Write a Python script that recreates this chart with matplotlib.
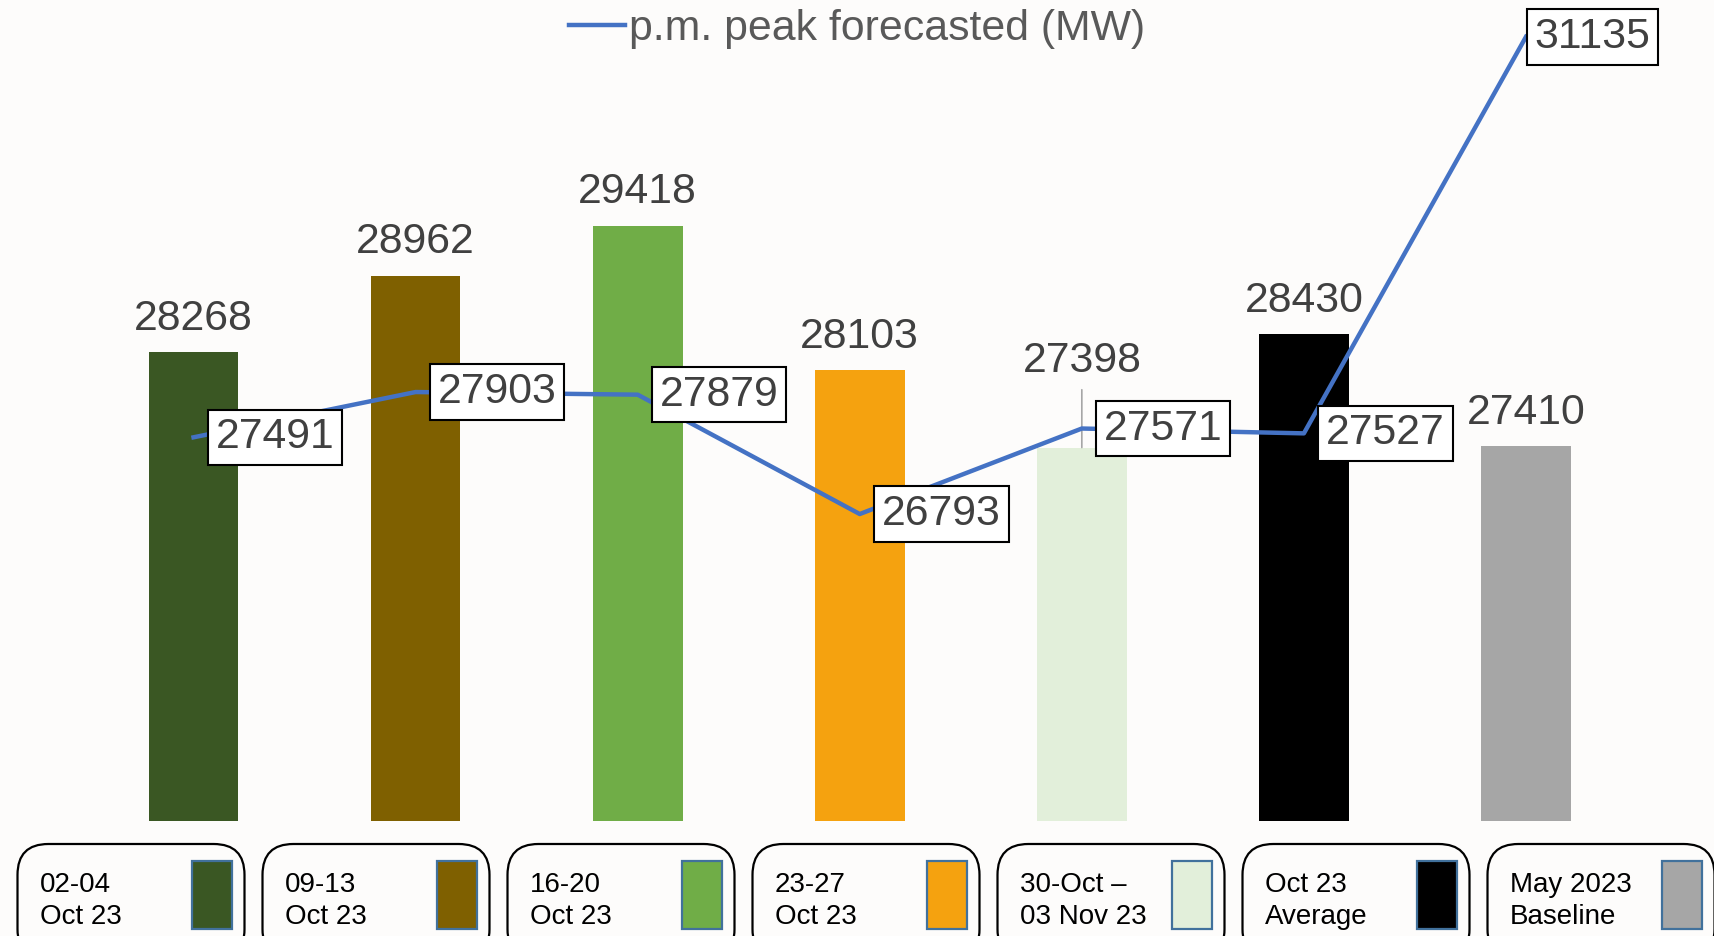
import matplotlib.pyplot as plt
from matplotlib.patches import FancyBboxPatch, Rectangle

plt.rcParams['font.family'] = ['Liberation Sans', 'DejaVu Sans']

categories = ["02-04\nOct 23", "09-13\nOct 23", "16-20\nOct 23", "23-27\nOct 23",
              "30-Oct \u2013\n03 Nov 23", "Oct 23\nAverage", "May 2023\nBaseline"]
bar_values = [28268, 28962, 29418, 28103, 27398, 28430, 27410]
line_values = [27491, 27903, 27879, 26793, 27571, 27527, 31135]
bar_colors = ["#3a5723", "#7f6000", "#70ad47", "#f5a20f", "#e2efda", "#000000", "#a6a6a6"]

W, H = 1714, 936
bg = "#fdfcfb"
txt = "#404040"
fs = 30.8

fig = plt.figure(figsize=(W / 100, H / 100), dpi=100, facecolor=bg)
ax = fig.add_axes([82.5 / W, 1 - 821 / H, 1554.5 / W, 821 / H])
ax.set_facecolor(bg)

x = list(range(len(categories)))
ax.bar(x, bar_values, width=0.404, color=bar_colors, bottom=0)
ax.set_ylim(24000, 31470)
ax.set_xlim(-0.5, 6.5)
ax.axis("off")

# bar value labels (the 5th one is pushed up with a leader line)
for i, v in enumerate(bar_values):
    if i == 4:
        ax.annotate(str(v), xy=(i, v), xytext=(0, 62), textcoords="offset points",
                    ha="center", va="center", fontsize=fs, color=txt,
                    arrowprops=dict(arrowstyle="-", color="#a6a6a6", lw=1.2,
                                    shrinkA=4, shrinkB=0))
    else:
        ax.annotate(str(v), xy=(i, v), xytext=(0, 24), textcoords="offset points",
                    ha="center", va="center", fontsize=fs, color=txt)

line, = ax.plot(x, line_values, color="#4472c4", lw=3.2, zorder=3,
                label="p.m. peak forecasted (MW)")

for i, v in enumerate(line_values):
    dx = 6 if i == len(line_values) - 1 else 16
    ax.annotate(str(v), xy=(i, v), xytext=(dx, 0), textcoords="offset points",
                ha="left", va="center", fontsize=fs, color=txt, zorder=4,
                bbox=dict(boxstyle="square,pad=0.18", fc="white", ec="black", lw=1.5))

fig.legend(handles=[line], loc="upper center", bbox_to_anchor=(0.5, 0.995),
           frameon=False, fontsize=fs, labelcolor="#595959", handlelength=1.3,
           handletextpad=0.1, borderaxespad=0, borderpad=0.1)

# legend boxes along the bottom
for i, (lab, c) in enumerate(zip(categories, bar_colors)):
    left = 17.5 + 245 * i
    box = FancyBboxPatch((left / W, (H - 960) / H), 227 / W, (960 - 844) / H,
                         boxstyle="round,pad=0,rounding_size=0.018",
                         transform=fig.transFigure, fc=bg, ec="black", lw=1.6,
                         mutation_aspect=W / H)
    fig.add_artist(box)
    fig.text((left + 22.5) / W, 1 - 901 / H, lab, fontsize=20, color="black",
             ha="left", va="center", linespacing=1.32)
    sw = Rectangle(((left + 174.5) / W, 1 - 929 / H), 40 / W, 68 / H,
                   transform=fig.transFigure, fc=c, ec="#41719c", lw=1.6)
    fig.add_artist(sw)

fig.savefig("out.png", dpi=100, facecolor=bg)
